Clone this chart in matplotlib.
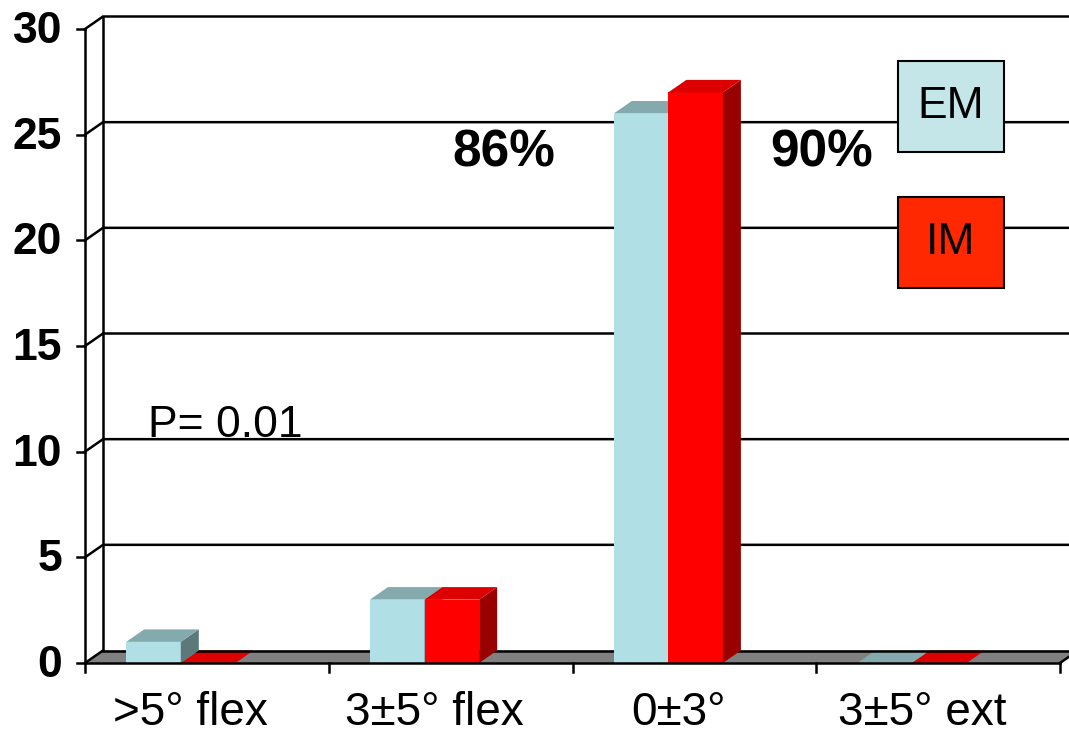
import matplotlib
matplotlib.use('Agg')
import matplotlib.pyplot as plt
from matplotlib.patches import Polygon, Rectangle

# ---- data ----
categories = ['>5° flex', '3±5° flex', '0±3°', '3±5° ext']
em_values = [1, 3, 26, 0]
im_values = [0, 3, 27, 0]
y_ticks = [0, 5, 10, 15, 20, 25, 30]
series_names = ['EM', 'IM']
pct_labels = ['86%', '90%']
p_label = 'P= 0.01'

plt.rcParams['font.family'] = ['Liberation Sans', 'DejaVu Sans']

W, H = 1069, 731
fig = plt.figure(figsize=(W / 100, H / 100), dpi=100)
fig.patch.set_facecolor('white')
x0px, x4px = 85, 1060
y0px, y30px = 663, 29
ax = fig.add_axes([x0px / W, (H - y0px) / H, (x4px - x0px) / W, (y0px - y30px) / H])
n = len(categories)
ymax = y_ticks[-1]
ax.set_xlim(0, n)
ax.set_ylim(0, ymax)
ax.axis('off')

ppx = (x4px - x0px) / n
ppy = (y0px - y30px) / ymax
DX = 18 / ppx
DY = 12.5 / ppy
LW = 1.8

# back wall + gridlines
ax.plot([DX, DX], [DY, ymax + DY], color='black', lw=LW, zorder=1, clip_on=False)
for v in y_ticks[1:]:
    ax.plot([0, DX, n + DX + 0.2], [v, v + DY, v + DY], color='black', lw=LW,
            zorder=1, clip_on=False, solid_joinstyle='miter')

# floor
ax.add_patch(Polygon([(0, 0), (n, 0), (n + DX, DY), (DX, DY)], closed=True,
                     facecolor='#808080', edgecolor='none', zorder=2, clip_on=False))
ax.plot([DX, n + DX], [DY, DY], color='black', lw=LW, zorder=3, clip_on=False)
ax.plot([0, DX], [0, DY], color='black', lw=LW, zorder=3, clip_on=False)
ax.plot([n, n + DX], [0, DY], color='black', lw=LW, zorder=3, clip_on=False)

# front axes
ax.plot([0, 0], [0, ymax], color='black', lw=LW, zorder=6, clip_on=False)
ax.plot([0, n], [0, 0], color='black', lw=LW, zorder=6, clip_on=False)
for v in y_ticks:
    ax.plot([-8 / ppx, 0], [v, v], color='black', lw=LW, zorder=6, clip_on=False)
    ax.text(-23 / ppx, v - 14 / ppy, str(v), ha='right', va='baseline',
            fontsize=32, fontweight='bold', zorder=6)
for i in range(n + 1):
    ax.plot([i, i], [0, -9 / ppy], color='black', lw=LW, zorder=6, clip_on=False)

for i, c in enumerate(categories):
    ax.text(i + 0.5 - 16 / ppx, -62 / ppy, c, ha='center', va='baseline', fontsize=33)

# bars
bar_w = 0.224
offsets = [0.169, 0.169 + bar_w]
styles = [
    dict(front='#B0E0E6', top='#84AAAD', side='#5C7878'),
    dict(front='#FF0000', top='#DD0000', side='#990000'),
]


def draw_bar(xl, h, st, z):
    xr = xl + bar_w
    if h > 0:
        ax.add_patch(Rectangle((xl, 0), bar_w, h, facecolor=st['front'],
                               edgecolor='none', zorder=z, clip_on=False))
        ax.add_patch(Polygon([(xr, 0), (xr, h), (xr + DX, h + DY), (xr + DX, DY)],
                             closed=True, facecolor=st['side'], edgecolor='none',
                             zorder=z, clip_on=False))
        ax.add_patch(Polygon([(xl, h), (xr, h), (xr + DX, h + DY), (xl + DX, h + DY)],
                             closed=True, facecolor=st['top'], edgecolor='none',
                             zorder=z, clip_on=False))
    else:
        ax.add_patch(Polygon([(xl, 0), (xr, 0), (xr + DX, DY), (xl + DX, DY)],
                             closed=True, facecolor=st['top'], edgecolor='none',
                             zorder=2.5, clip_on=False))


for s, vals in enumerate([em_values, im_values]):
    for i, h in enumerate(vals):
        draw_bar(i + offsets[s], h, styles[s], 4 + s * 0.1 + i * 0.01)

# annotations
ax.text((504 - x0px) / ppx, (y0px - 153) / ppy, pct_labels[0], ha='center', va='center',
        fontsize=37, fontweight='bold', zorder=7)
ax.text((822 - x0px) / ppx, (y0px - 153) / ppy, pct_labels[1], ha='center', va='center',
        fontsize=37, fontweight='bold', zorder=7)
ax.text((148 - x0px) / ppx, (y0px - 437) / ppy, p_label, ha='left', va='baseline',
        fontsize=32, zorder=7)

# legend boxes
leg_colors = ['#C4E6E8', '#FF2800']
leg_tops = [61, 197]
for name, col, top in zip(series_names, leg_colors, leg_tops):
    xl = (898 - x0px) / ppx
    w = (1004 - 898) / ppx
    yb = (y0px - (top + 91)) / ppy
    hh = 91 / ppy
    ax.add_patch(Rectangle((xl, yb), w, hh, facecolor=col, edgecolor='black', lw=1.5,
                           zorder=8, clip_on=False))
    ax.text(xl + w / 2, yb + hh / 2, name, ha='center', va='center', fontsize=32, zorder=9)

fig.savefig('out.png', dpi=100, facecolor='white')
